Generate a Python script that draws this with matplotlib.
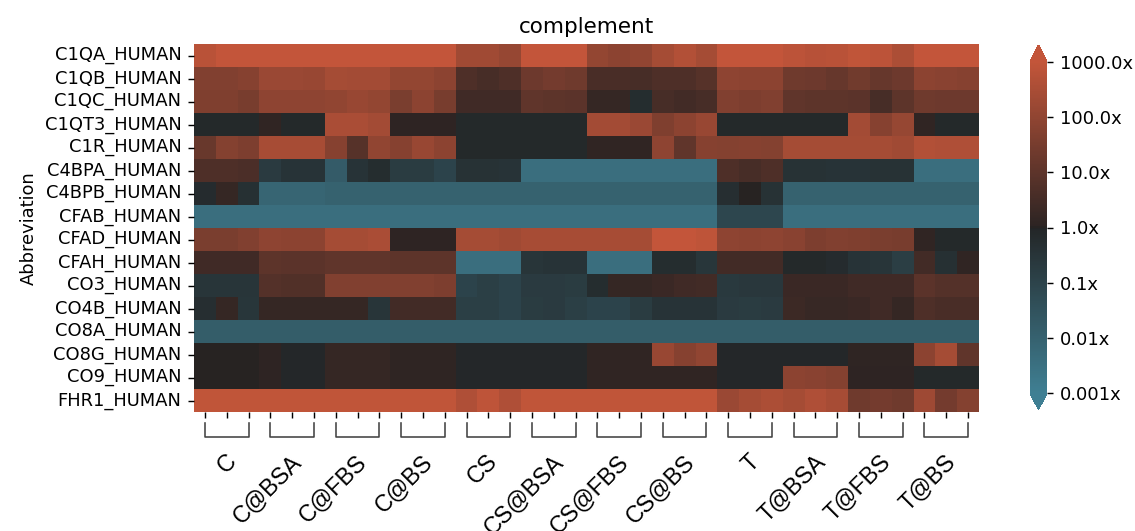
import matplotlib
matplotlib.use("Agg")
import matplotlib.pyplot as plt
import matplotlib.transforms as mtransforms
from matplotlib.ticker import FuncFormatter
import numpy as np
import pandas as pd
import seaborn as sns

proteins = ["C1QA_HUMAN", "C1QB_HUMAN", "C1QC_HUMAN", "C1QT3_HUMAN", "C1R_HUMAN",
            "C4BPA_HUMAN", "C4BPB_HUMAN", "CFAB_HUMAN", "CFAD_HUMAN", "CFAH_HUMAN",
            "CO3_HUMAN", "CO4B_HUMAN", "CO8A_HUMAN", "CO8G_HUMAN", "CO9_HUMAN",
            "FHR1_HUMAN"]
conditions = ["C", "C@BSA", "C@FBS", "C@BS", "CS", "CS@BSA", "CS@FBS", "CS@BS",
              "T", "T@BSA", "T@FBS", "T@BS"]
n_rep = 3

# log10 fold change, 3 replicates per condition
log_ratio = [
    [2.8, 3, 3, 3, 3, 3, 3, 3, 3, 3, 3, 3, 2.3, 2.3, 2.1, 3, 3, 3,
     2.05, 1.9, 2.0, 2.4, 2.65, 2.4, 3, 3, 3, 2.85, 2.75, 2.8, 2.95, 2.85, 2.55, 3, 3, 3],
    [1.7, 1.7, 1.8, 2.2, 2.2, 2.15, 2.4, 2.35, 2.35, 2.05, 2.05, 1.9, 0.7, 0.55, 0.7, 1.3, 1.45, 1.35,
     0.6, 0.6, 0.55, 0.7, 0.7, 0.85, 1.95, 1.9, 1.9, 1.35, 1.3, 1.15, 1.4, 1.15, 1.3, 1.9, 1.85, 1.8],
    [1.65, 1.65, 1.5, 1.95, 1.95, 1.95, 2.0, 2.15, 2.05, 1.55, 1.9, 1.5, 0.4, 0.4, 0.4, 1.05, 1.0, 0.95,
     0.2, 0.2, -0.25, 0.55, 0.45, 0.55, 1.7, 1.6, 1.7, 1.05, 1.0, 1.0, 0.95, 0.55, 1.0, 1.35, 1.3, 1.3],
    [-0.1, -0.1, -0.1, 0.1, -0.1, -0.1, 2.5, 2.5, 2.35, 0.05, 0.05, 0.05, -0.1, -0.1, -0.1, -0.1, -0.1, -0.1,
     2.35, 2.35, 2.2, 1.65, 1.9, 2.15, -0.1, -0.1, -0.1, -0.1, -0.1, -0.1, 2.35, 1.8, 2.1, 0.1, -0.1, -0.1],
    [1.2, 1.75, 1.6, 2.45, 2.45, 2.45, 1.8, 0.85, 2.0, 1.8, 2.15, 1.9, -0.1, -0.1, -0.1, -0.1, -0.1, -0.1,
     0.1, 0.1, 0.1, 1.95, 1.05, 1.8, 1.75, 1.8, 1.75, 2.4, 2.4, 2.4, 2.4, 2.4, 2.3, 2.65, 2.6, 2.6],
    [0.7, 0.7, 0.65, -0.7, -0.45, -0.45, -1.8, -0.45, -0.25, -0.75, -0.75, -1.0, -0.4, -0.4, -0.45, -2.4, -2.4, -2.4,
     -2.4, -2.4, -2.4, -2.4, -2.4, -2.4, 0.7, 0.55, 0.7, -0.4, -0.4, -0.45, -0.45, -0.4, -0.4, -2.4, -2.4, -2.4],
    [-0.2, 0.2, -0.35, -2.1, -2.1, -2.1, -2.0, -2.0, -2.0, -2.0, -2.0, -2.0, -2.0, -2.0, -2.0, -2.0, -2.0, -2.0,
     -2.0, -2.0, -2.0, -2.0, -2.0, -2.0, -0.3, 0.0, -0.4, -2.0, -2.0, -2.0, -2.0, -2.0, -2.0, -2.0, -2.0, -2.0],
    [-2.4, -2.4, -2.4, -2.4, -2.4, -2.4, -2.4, -2.4, -2.4, -2.4, -2.4, -2.4, -2.4, -2.4, -2.4, -2.4, -2.4, -2.4,
     -2.4, -2.4, -2.4, -2.4, -2.4, -2.4, -1.1, -1.1, -1.1, -2.4, -2.4, -2.4, -2.4, -2.4, -2.4, -2.4, -2.4, -2.4],
    [1.55, 1.55, 1.7, 1.95, 1.9, 1.9, 2.4, 2.4, 2.5, 0.05, 0.05, 0.05, 2.4, 2.4, 2.3, 2.45, 2.45, 2.45,
     2.45, 2.45, 2.4, 3, 3, 2.9, 1.95, 1.9, 1.95, 1.85, 1.6, 1.7, 1.65, 1.55, 1.5, 0.1, -0.1, -0.1],
    [0.4, 0.4, 0.4, 1.0, 0.95, 0.95, 1.05, 1.05, 1.05, 1.0, 1.0, 1.0, -2.4, -2.4, -2.4, -0.5, -0.45, -0.45,
     -2.4, -2.4, -2.4, -0.25, -0.25, -0.55, 0.45, 0.45, 0.45, -0.1, -0.1, -0.2, -0.45, -0.5, -0.8, 0.45, -0.35, 0.1],
    [-0.5, -0.5, -0.5, 0.8, 0.75, 0.75, 1.7, 1.7, 1.7, 1.7, 1.7, 1.6, -1.0, -0.85, -1.0, -0.7, -0.7, -0.75,
     -0.25, 0.2, 0.2, 0.3, 0.4, 0.45, -0.65, -0.6, -0.6, 0.3, 0.3, 0.3, 0.4, 0.4, 0.4, 0.95, 0.8, 0.8],
    [-0.3, 0.2, -0.55, 0.2, 0.2, 0.2, 0.2, 0.2, -0.5, 0.45, 0.45, 0.45, -0.85, -0.85, -1.0, -0.75, -0.7, -0.85,
     -1.0, -1.0, -0.75, -0.45, -0.45, -0.45, -0.7, -0.75, -0.7, 0.35, 0.25, 0.25, 0.3, 0.4, 0.2, 0.7, 0.6, 0.6],
    [-1.85] * 36,
    [0, 0, 0, 0.05, -0.05, -0.05, 0.2, 0.2, 0.2, 0.08, 0.08, 0.08, -0.05, -0.05, -0.05, -0.05, -0.05, -0.05,
     0.1, 0.1, 0.1, 2.15, 1.8, 2.0, -0.05, -0.05, -0.05, -0.05, -0.05, -0.05, 0.08, 0.08, 0.08, 1.9, 2.4, 1.05],
    [0, 0, 0, 0.05, -0.05, -0.05, 0.2, 0.2, 0.2, 0.08, 0.08, 0.08, -0.05, -0.05, -0.05, -0.05, -0.05, -0.05,
     0.1, 0.1, 0.1, 0.1, 0.1, 0.1, -0.05, -0.05, -0.05, 1.9, 1.85, 1.75, 0.05, 0.05, 0.05, -0.1, -0.1, -0.1],
    [2.95, 2.95, 2.95, 2.95, 2.95, 2.95, 2.95, 2.95, 2.95, 2.95, 2.95, 2.95, 2.6, 2.9, 2.6, 2.95, 2.95, 2.95,
     2.95, 2.95, 2.95, 2.95, 2.95, 2.95, 2.2, 2.4, 2.55, 2.4, 2.6, 2.45, 1.35, 1.45, 1.35, 2.25, 1.45, 1.75],
]
cbar_ticks = [-3.0, -2.0, -1.0, 0.0, 1.0, 2.0, 3.0]

df = pd.DataFrame(np.array(log_ratio), index=pd.Index(proteins, name="Abbreviation"))

W, H, DPI = 1135, 531, 129
fig = plt.figure(figsize=(W / DPI, H / DPI), dpi=DPI)
ax = fig.add_axes([194 / W, 1 - 412 / H, 785 / W, 368 / H])
cax = fig.add_axes([1030 / W, 1 - 410 / H, 17 / W, 365 / H])

cmap = sns.diverging_palette(220, 20, center="dark", as_cmap=True)
sns.heatmap(df, cmap=cmap, vmin=-3, vmax=3, ax=ax, cbar_ax=cax,
            xticklabels=[""] * df.shape[1], yticklabels=proteins,
            cbar_kws=dict(extend="both", ticks=cbar_ticks,
                          format=FuncFormatter(lambda v, p: f"{10 ** v}x")))
ax.set_yticklabels(proteins, rotation=0)
ax.set_title("complement")

# group brackets + labels under the columns
trans = mtransforms.blended_transform_factory(ax.transData, ax.transAxes)
ah = 368.0
for g, name in enumerate(conditions):
    x0 = g * n_rep + 0.5
    x1 = g * n_rep + n_rep - 0.5
    ax.plot([x0, x0, x1, x1], [-11 / ah, -25 / ah, -25 / ah, -11 / ah],
            transform=trans, clip_on=False, color="#444444", lw=0.9)
    ax.text(g * n_rep + 1.5 + 0.65, -38 / ah, name, transform=trans,
            rotation=45, ha="right", va="top", fontsize=13,
            family="Liberation Sans")

fig.savefig("out.png", dpi=DPI)
